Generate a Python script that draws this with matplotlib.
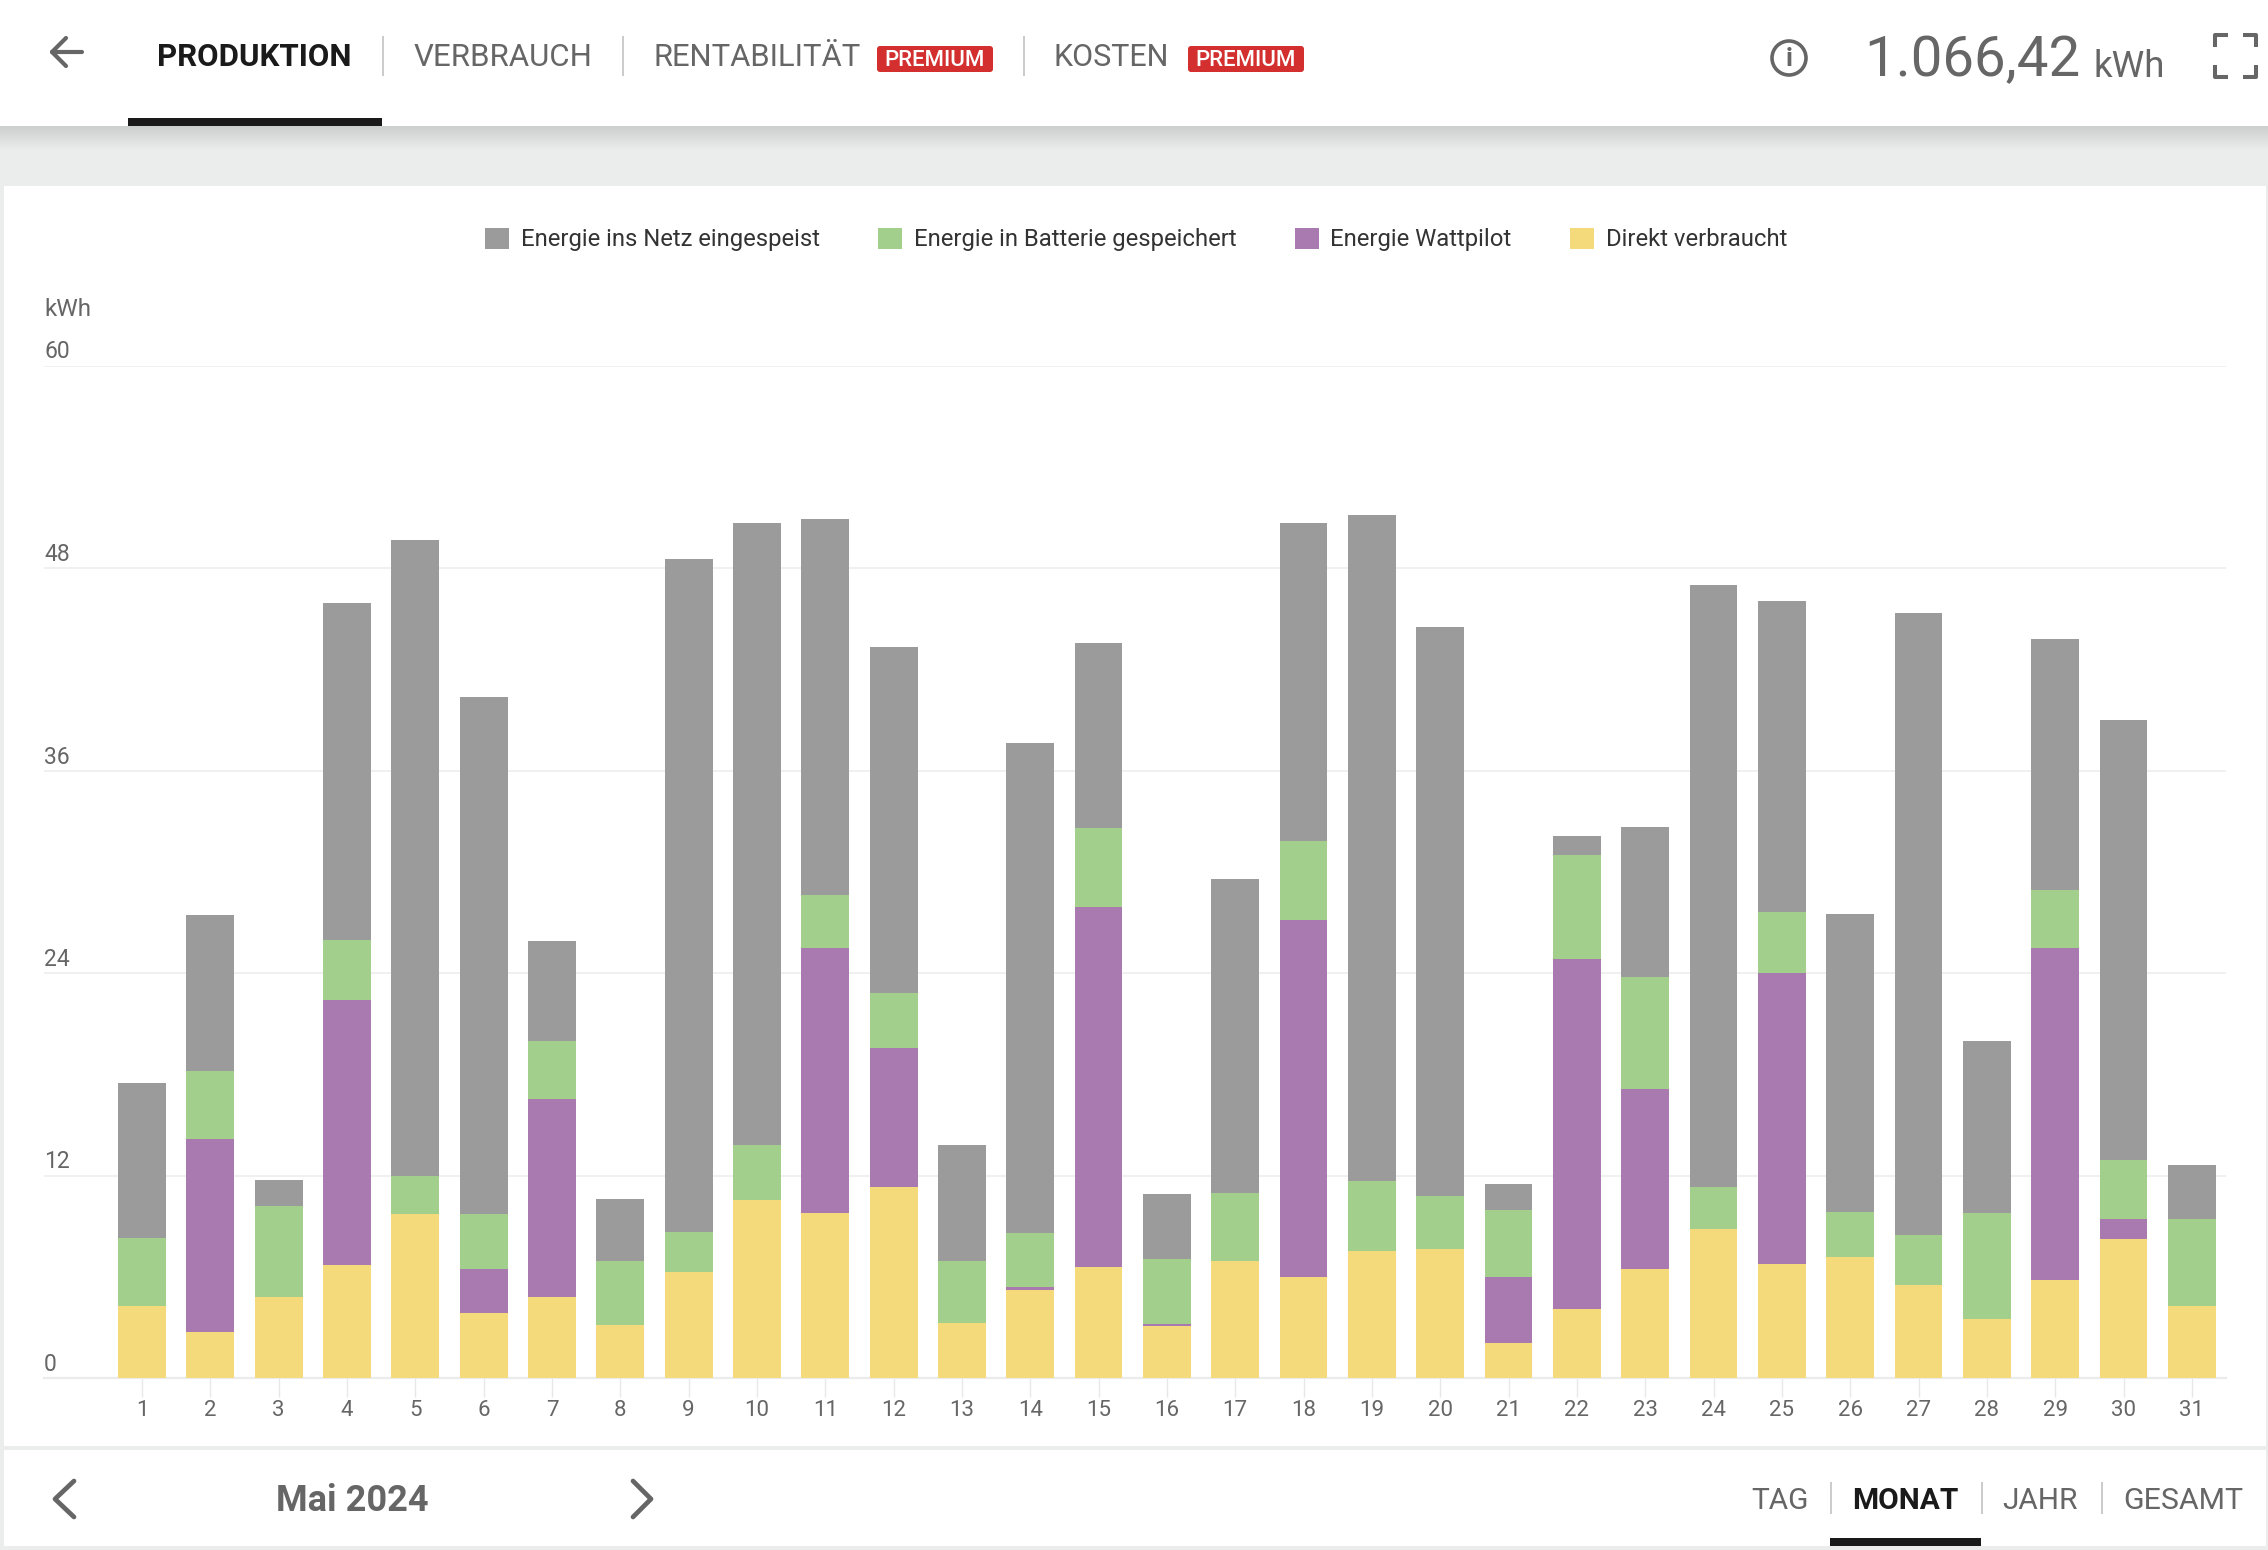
"""Mai 2024 production chart (stacked daily kWh) inside the app's page chrome."""
import matplotlib
matplotlib.use("Agg")
import matplotlib.pyplot as plt
from matplotlib.patches import Circle, FancyBboxPatch, Patch, Rectangle
from matplotlib.transforms import ScaledTranslation

plt.rcParams["font.family"] = ["Roboto", "DejaVu Sans"]

days = list(range(1, 32))
direkt = [4.29, 2.74, 4.80, 6.69, 9.69, 3.86, 4.80, 3.17, 6.26, 10.54, 9.77, 11.31, 3.26, 5.23, 6.60, 3.09,
          6.94, 6.00, 7.54, 7.63, 2.06, 4.11, 6.43, 8.83, 6.77, 7.20, 5.49, 3.51, 5.83, 8.23, 4.29]
wattpilot = [0, 11.40, 0, 15.69, 0, 2.57, 11.74, 0, 0, 0, 15.69, 8.23, 0, 0.17, 21.34, 0.09,
             0, 21.17, 0, 0, 3.94, 20.74, 10.71, 0, 17.23, 0, 0, 0, 19.63, 1.20, 0]
batterie = [4.03, 4.03, 5.40, 3.60, 2.31, 3.26, 3.43, 3.77, 2.40, 3.26, 3.17, 3.26, 3.69, 3.17, 4.63, 3.86,
            4.03, 4.63, 4.11, 3.17, 3.94, 6.17, 6.60, 2.49, 3.60, 2.66, 3.00, 6.26, 3.43, 3.51, 5.14]
netz = [9.17, 9.26, 1.54, 19.97, 37.63, 30.69, 5.91, 3.69, 39.86, 36.86, 22.29, 20.49, 6.86, 29.06, 10.97, 3.86,
        18.60, 18.86, 39.51, 33.69, 1.54, 1.11, 8.91, 35.66, 18.43, 17.66, 36.86, 10.20, 14.91, 26.06, 3.17]
y_ticks = [0, 12, 24, 36, 48, 60]

series_labels = ["Direkt verbraucht", "Energie Wattpilot", "Energie in Batterie gespeichert", "Energie ins Netz eingespeist"]
series_colors = ["#f4da7a", "#a87ab0", "#a2cf8c", "#9b9b9b"]

W, H = 2268, 1550
GREY = "#666666"
DARK = "#1a1a1a"
RULE = "#cccccc"
BG = "#ebedec"

fig = plt.figure(figsize=(W / 100, H / 100), dpi=100, facecolor=BG)

# page chrome, drawn in pixel coordinates
ui = fig.add_axes([0, 0, 1, 1], zorder=0)
ui.set_xlim(0, W)
ui.set_ylim(H, 0)
ui.set_axis_off()


def box(x0, y0, x1, y1, color):
    ui.add_patch(Rectangle((x0, y0), x1 - x0, y1 - y0, fc=color, ec="none"))


def stroke(xs, ys, color=GREY, lw=3.0):
    ui.plot(xs, ys, color=color, lw=lw, solid_capstyle="round", solid_joinstyle="round")


def label(x, y, text, size, color=GREY, weight="normal", ha="left", va="baseline"):
    return ui.text(x, y, text, fontsize=size, color=color, fontweight=weight, ha=ha, va=va)


box(0, 0, W, 126, "white")
for i in range(24):
    g = 205 + int((235 - 205) * i / 23)
    box(0, 126 + i, W, 127 + i, (g / 255, (g + 1) / 255, (g + 1) / 255))
box(4, 186, 2266, 1446, "white")
box(4, 1450, 2266, 1546, "white")

# top tabs
box(128, 118, 382, 126, DARK)
for x in (383, 623, 1024):
    box(x - 0.7, 36, x + 0.7, 76, RULE)
label(157, 66, "PRODUKTION", 22.5, DARK, "bold")
label(414, 66, "VERBRAUCH", 22.5)
label(654, 66, "RENTABILITÄT", 22.3)
label(1054, 66, "KOSTEN", 22)
for x0, x1 in ((877, 993), (1188, 1304)):
    ui.add_patch(FancyBboxPatch((x0 + 3, 49), x1 - x0 - 6, 20, boxstyle="round,pad=3", fc="#d32f2f", ec="none"))
    label((x0 + x1) / 2, 66, "PREMIUM", 16, "white", "medium", ha="center")

# back arrow
stroke([82, 52], [52, 52])
stroke([66, 52, 66], [38, 52, 66])

# total on the right
ui.add_patch(Circle((1789, 58), 17, fc="none", ec=GREY, lw=2.6))
label(1789, 59, "i", 19, GREY, "bold", ha="center", va="center")
label(1864, 76, "1.066,42", 40.6)
label(2093, 77, "kWh", 26.5)
for cx, cy, dx, dy in ((2215, 35, 1, 1), (2256, 35, -1, 1), (2215, 77, 1, -1), (2256, 77, -1, -1)):
    ui.plot([cx + 13 * dx, cx, cx], [cy, cy, cy + 12 * dy], color=GREY, lw=2.9, solid_capstyle="butt")

# bottom bar
stroke([74, 55, 74], [1481, 1499, 1517], lw=3.4)
stroke([633, 651, 633], [1481, 1499, 1517], lw=3.4)
label(352.5, 1511, "Mai 2024", 26, GREY, "bold", ha="center")
label(1751, 1509, "TAG", 21.5)
label(1852, 1509, "MONAT", 21.5, DARK, "bold")
label(2002, 1509, "JAHR", 21.5)
label(2123, 1509, "GESAMT", 21.8)
for x in (1831, 1982, 2102):
    box(x - 0.8, 1482, x + 0.8, 1514, RULE)
box(1830, 1538, 1981, 1546, DARK)

# the chart itself
ax = fig.add_axes([44 / W, 1 - 1378 / H, (2226 - 44) / W, (1378 - 365.5) / H], zorder=1)
ax.patch.set_alpha(0)
bottom = [0.0] * len(days)
for values, lab, col in zip([direkt, wattpilot, batterie, netz], series_labels, series_colors):
    ax.bar(days, values, width=0.70, bottom=bottom, color=col, label=lab, zorder=3)
    bottom = [b + v for b, v in zip(bottom, values)]

ax.set_xlim(-0.434, 31.5)
ax.set_ylim(0, 60)
for s in ax.spines.values():
    s.set_visible(False)
ax.set_yticks(y_ticks)
ax.grid(axis="y", color="#ececec", lw=1.1, zorder=0)
ax.set_axisbelow(True)
ax.set_xticks(days)
ax.tick_params(axis="x", length=13.5, width=1.0, color="#e8e8e8", labelcolor=GREY, labelsize=16, pad=2)
ax.tick_params(axis="y", length=0, labelcolor=GREY, labelsize=16.5, pad=0)
ax.axhline(0, color="#ebebeb", lw=1.6, zorder=1, clip_on=False)

shift = ScaledTranslation(0, 0.07, fig.dpi_scale_trans)
for t in ax.get_yticklabels():
    t.set_ha("left")
    t.set_va("baseline")
    t.set_transform(t.get_transform() + shift)

ax.text(0, 1, "kWh", transform=ax.transAxes + ScaledTranslation(0, 0.49, fig.dpi_scale_trans),
        fontsize=17.5, color=GREY, ha="left", va="baseline")

handles = [Patch(fc=c, ec="none", label=l) for c, l in zip(series_colors[::-1], series_labels[::-1])]
fig.legend(handles=handles, loc="center", bbox_to_anchor=(1136 / W, 1 - 239.5 / H), ncols=4, frameon=False,
           fontsize=17.2, labelcolor="#333333", handlelength=1.0, handleheight=1.0, handletextpad=0.5,
           columnspacing=2.44, borderpad=0)

fig.savefig("out.png", dpi=100)
